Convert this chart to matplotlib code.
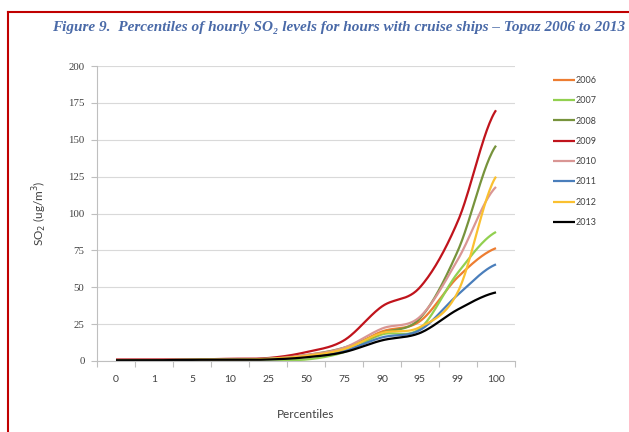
import numpy as np
import matplotlib
matplotlib.use("Agg")
import matplotlib.pyplot as plt
from matplotlib.lines import Line2D

categories = ["0", "1", "5", "10", "25", "50", "75", "90", "95", "99", "100"]
years = ["2006", "2007", "2008", "2009", "2010", "2011", "2012", "2013"]
y2006 = [0.5, 0.5, 1.0, 1.0, 1.5, 3.5, 8.0, 20.0, 27.0, 57.0, 76.5]
y2007 = [0.5, 0.5, 0.8, 0.8, 1.0, 1.0, 6.0, 18.0, 22.0, 60.0, 87.5]
y2008 = [0.5, 0.5, 1.0, 1.0, 1.5, 4.0, 9.0, 19.0, 29.0, 75.0, 146.0]
y2009 = [1.0, 1.0, 1.0, 1.5, 2.0, 6.0, 14.0, 37.0, 50.0, 95.0, 170.0]
y2010 = [0.5, 0.5, 1.0, 1.0, 1.5, 4.0, 9.0, 22.0, 30.0, 69.0, 118.0]
y2011 = [0.5, 0.5, 1.0, 1.0, 1.5, 3.0, 7.0, 16.0, 21.0, 45.0, 65.5]
y2012 = [0.5, 0.5, 1.0, 1.0, 1.5, 3.5, 8.0, 19.0, 23.0, 47.0, 125.0]
y2013 = [0.5, 0.5, 0.8, 0.8, 1.0, 2.5, 6.0, 14.0, 19.0, 35.0, 46.5]
series = [y2006, y2007, y2008, y2009, y2010, y2011, y2012, y2013]
colors = ["#ED7D31", "#92D050", "#77933C", "#C0141C", "#D99694", "#4A7EBB", "#FAC030", "#000000"]

def smooth(y, n=30):
    x = np.arange(len(y), dtype=float)
    y = np.asarray(y, dtype=float)
    xs, ys = [], []
    for i in range(len(y) - 1):
        p0 = y[i - 1] if i > 0 else y[i]
        p3 = y[i + 2] if i + 2 < len(y) else y[i + 1]
        p1, p2 = y[i], y[i + 1]
        c1 = p1 + (p2 - p0) / 6.0
        c2 = p2 - (p3 - p1) / 6.0
        t = np.linspace(0, 1, n)
        b = (1 - t) ** 3 * p1 + 3 * (1 - t) ** 2 * t * c1 + 3 * (1 - t) * t ** 2 * c2 + t ** 3 * p2
        xs.append(x[i] + t)
        ys.append(b)
    return np.concatenate(xs), np.concatenate(ys)

W, H = 629, 432
fig = plt.figure(figsize=(W / 100, H / 100), dpi=100)
ax = fig.add_axes([97 / W, (H - 361) / H, 418 / W, 295 / H])

for yv, c, lab in zip(series, colors, years):
    xs, ys = smooth(yv)
    ax.plot(xs, ys, color=c, lw=1.6, label=lab, solid_capstyle="butt")

ax.set_xlim(-0.5, len(categories) - 0.5)
ax.set_ylim(0, 200)
ax.set_yticks(np.arange(0, 201, 25))
ax.set_xticks(np.arange(len(categories)))
ax.set_xticklabels(categories)
ax.set_xticks(np.arange(-0.5, len(categories), 1), minor=True)
ax.grid(axis="y", color="#D9D9D9", lw=0.8)
ax.set_axisbelow(True)
for s in ["top", "right"]:
    ax.spines[s].set_visible(False)
for s in ["left", "bottom"]:
    ax.spines[s].set_color("#BFBFBF")
    ax.spines[s].set_linewidth(0.8)
ax.tick_params(axis="x", which="major", length=0, pad=10, labelsize=7.5, labelcolor="#404040")
ax.tick_params(axis="x", which="minor", length=4, color="#BFBFBF", width=0.8)
ax.tick_params(axis="y", length=4, color="#BFBFBF", width=0.8, pad=5, labelsize=7.8, labelcolor="#404040")
for t in ax.get_yticklabels():
    t.set_family("Liberation Serif")
for t in ax.get_xticklabels():
    t.set_family("Lato")

ax.set_ylabel("SO$_2$ (ug/m$^3$)", fontsize=8.5, color="#404040", family="Lato", labelpad=14)
ax.set_xlabel("Percentiles", fontsize=8.5, color="#404040", family="Lato", labelpad=18)

leg = ax.legend(loc="upper left", bbox_to_anchor=(553 / W, (H - 76) / H), bbox_transform=fig.transFigure,
                frameon=False, fontsize=6.5, handlelength=2.4, handletextpad=0.15,
                labelspacing=1.25, borderaxespad=0, borderpad=0)
for t in leg.get_texts():
    t.set_family("Lato")
    t.set_color("#404040")

fig.text(52 / W, (H - 28) / H,
         "Figure 9.  Percentiles of hourly SO\u2082 levels for hours with cruise ships \u2013 Topaz 2006 to 2013",
         ha="left", va="center", fontsize=11, style="italic", weight="bold",
         color="#4A6AA8", family="Liberation Serif")

fig.add_artist(Line2D([8 / W, 8 / W], [(H - 12) / H, 0], transform=fig.transFigure, color="#C00000", lw=1.5))
fig.add_artist(Line2D([8 / W, 1], [(H - 12) / H, (H - 12) / H], transform=fig.transFigure, color="#C00000", lw=1.5))

fig.savefig("out.png", dpi=100)
